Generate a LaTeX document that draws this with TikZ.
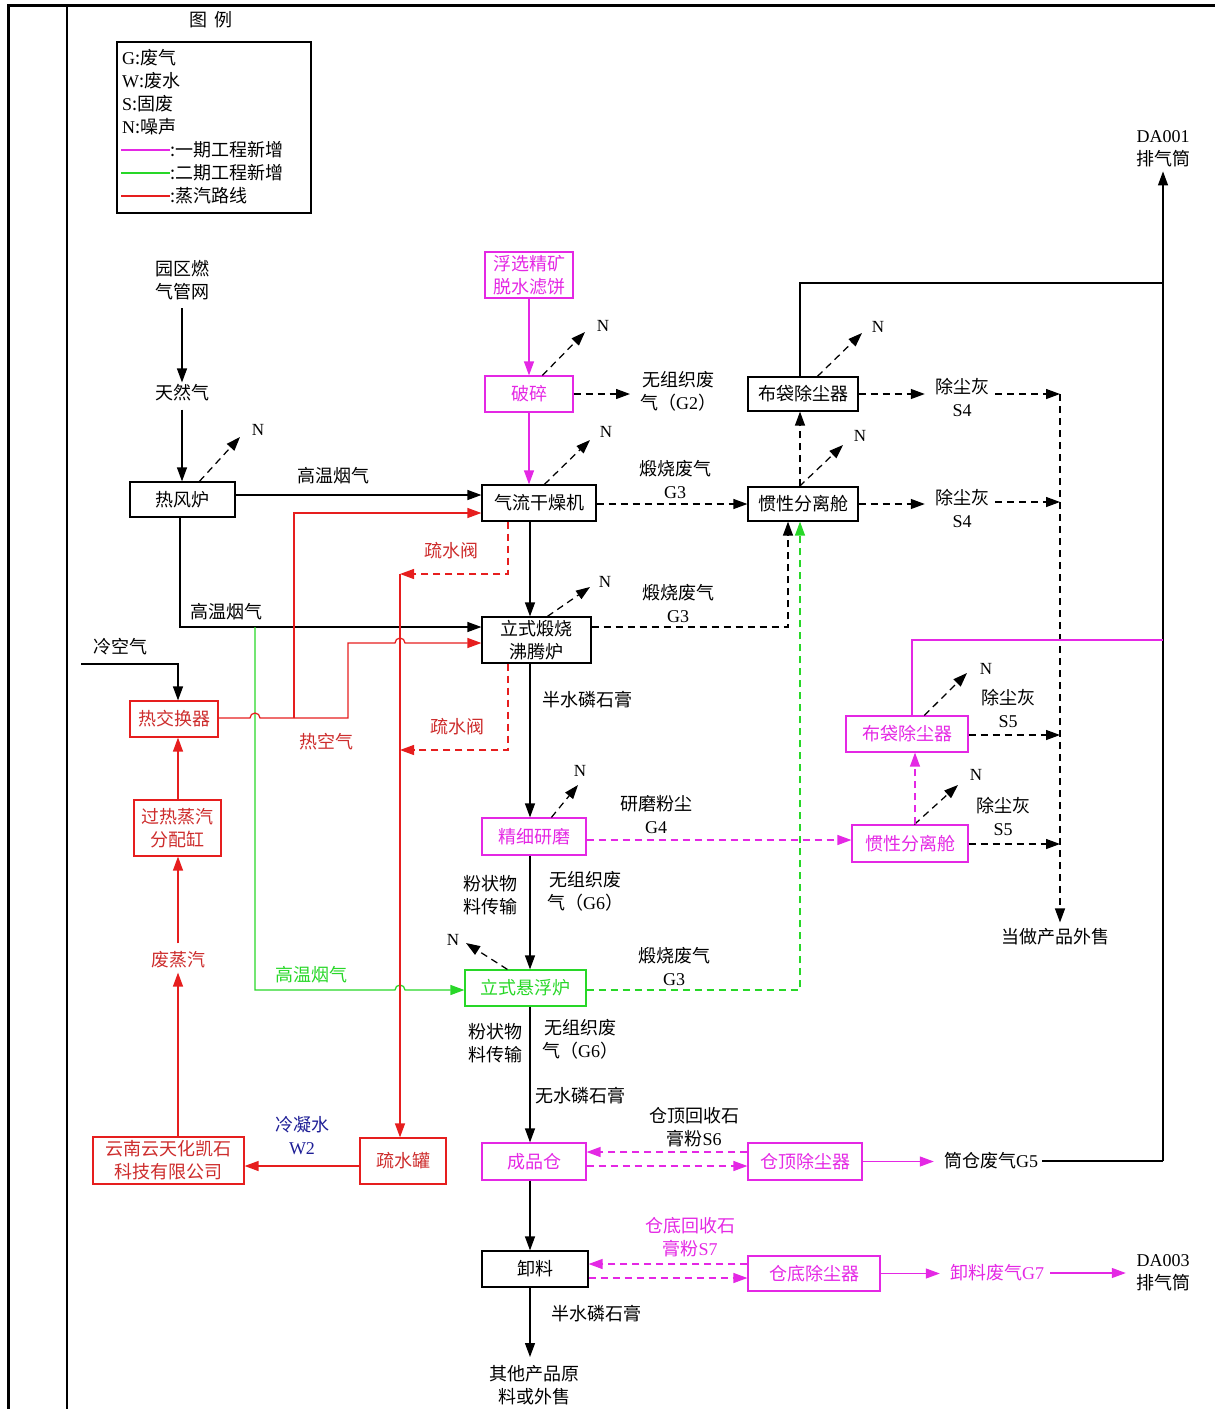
\documentclass[tikz,border=0pt]{standalone}
\usepackage{fontspec}
\setmainfont{Liberation Serif}
\newfontfamily\cjk{Noto Sans CJK SC}
\usetikzlibrary{arrows.meta,calc}
\definecolor{mag}{RGB}{228,40,228}
\definecolor{grn}{RGB}{40,215,40}
\definecolor{rd}{RGB}{230,30,30}
\definecolor{rdt}{RGB}{205,45,45}
\definecolor{blu}{RGB}{30,30,150}
\newcommand\lat[1]{{\rmfamily #1}}
\tikzset{
 base/.style={font=\cjk\fontsize{18}{23}\selectfont, align=center, inner sep=0pt},
 box/.style={base, draw, line width=1.2pt},
 kbox/.style={box, draw=black},
 mbox/.style={box, draw=mag, text=mag},
 gbox/.style={box, draw=grn, text=grn},
 rbox/.style={box, draw=rd, text=rdt},
 lbl/.style={base},
 nl/.style={font=\rmfamily\fontsize{17}{20}\selectfont, inner sep=0pt},
 ln/.style={line width=1.25pt},
 arr/.style={ln, -{Triangle[length=14pt,width=10pt]}},
 dsh/.style={dash pattern=on 7pt off 5pt},
}
\begin{document}
\begin{tikzpicture}[x=1pt,y=-1pt]
\useasboundingbox (0,0) rectangle (1215,1409);
% frame
\draw[line width=3pt] (8,1409) -- (8,5) -- (1215,5);
\draw[line width=1.6pt] (67,5) -- (67,1409);
% legend
\node[lbl] (lgt) at (211,20) {图\hspace{8pt}例};
\draw[line width=1.2pt] (117,42) rectangle (311,213);
\node[lbl, anchor=west] (lg1) at (122,58) {\lat{G}:废气};
\node[lbl, anchor=west] (lg2) at (122,81) {\lat{W}:废水};
\node[lbl, anchor=west] (lg3) at (122,104) {\lat{S}:固废};
\node[lbl, anchor=west] (lg4) at (122,127) {\lat{N}:噪声};
\node[lbl, anchor=west] (lg5) at (170,150) {:一期工程新增};
\node[lbl, anchor=west] (lg6) at (170,173) {:二期工程新增};
\node[lbl, anchor=west] (lg7) at (170,196) {:蒸汽路线};
\draw[ln, mag] (121,150) -- (lg5.west);
\draw[ln, grn] (121,173) -- (lg6.west);
\draw[ln, rd] (121,196) -- (lg7.west);

% ---------- nodes ----------
\node[lbl] (yq) at (182,280) {园区燃\\气管网};
\node[lbl] (trq) at (182,393) {天然气};
\node[kbox, minimum width=105pt, minimum height=35pt] (rfl) at (182.5,499.5) {热风炉};
\node[mbox, minimum width=88pt, minimum height=46pt] (fx) at (529,275) {浮选精矿\\脱水滤饼};
\node[mbox, minimum width=88pt, minimum height=36pt] (ps) at (529,394) {破碎};
\node[kbox, minimum width=114pt, minimum height=36pt] (qlgz) at (539,503) {气流干燥机};
\node[kbox, minimum width=110pt, minimum height=34pt] (gx1) at (803,504) {惯性分离舱};
\node[kbox, minimum width=110pt, minimum height=34pt] (bd1) at (803,394) {布袋除尘器};
\node[kbox, minimum width=109pt, minimum height=46pt] (lsfl) at (536.5,640) {立式煅烧\\沸腾炉};
\node[rbox, minimum width=88pt, minimum height=36pt] (rjhq) at (174,719) {热交换器};
\node[rbox, minimum width=87pt, minimum height=56pt] (grzq) at (177.5,828) {过热蒸汽\\分配缸};
\node[rbox, minimum width=86pt, minimum height=46pt] (ssg) at (403,1161) {疏水罐};
\node[rbox, minimum width=151pt, minimum height=47pt] (yn) at (168.5,1160.5) {云南云天化凯石\\科技有限公司};
\node[mbox, minimum width=104pt, minimum height=37pt] (jxym) at (534,836.5) {精细研磨};
\node[gbox, minimum width=121pt, minimum height=36pt] (xzfl) at (525.5,988) {立式悬浮炉};
\node[mbox, minimum width=116pt, minimum height=37pt] (gx2) at (910,843.5) {惯性分离舱};
\node[mbox, minimum width=122pt, minimum height=36pt] (bd2) at (907,734) {布袋除尘器};
\node[mbox, minimum width=104pt, minimum height=37pt] (cpc) at (534,1161.5) {成品仓};
\node[mbox, minimum width=114pt, minimum height=37pt] (cdc) at (805,1161.5) {仓顶除尘器};
\node[kbox, minimum width=106pt, minimum height=36pt] (xl) at (535,1269) {卸料};
\node[mbox, minimum width=132pt, minimum height=35pt] (cdi) at (814,1273.5) {仓底除尘器};

% text labels
\node[lbl] (l1) at (333,476) {高温烟气};
\node[lbl] (l2) at (226,612) {高温烟气};
\node[lbl, anchor=west] (g2) at (640,391) {无组织废\\气（\lat{G2}）};
\node[lbl] (l3) at (675,479) {煅烧废气\\\lat{G3}};
\node[lbl] (l4) at (678,603) {煅烧废气\\\lat{G3}};
\node[lbl] (s4a) at (962,397) {除尘灰\\\lat{S4}};
\node[lbl] (s4b) at (962,508) {除尘灰\\\lat{S4}};
\node[lbl] (sale) at (1055,937) {当做产品外售};
\node[lbl] (da1) at (1163,149) {\lat{DA001}\\排气筒};
\node[lbl] (cold) at (120,647) {冷空气};
\node[lbl, text=rdt] (hot) at (326,742) {热空气};
\node[lbl, text=rdt] (ss1) at (451,551) {疏水阀};
\node[lbl, text=rdt] (ss2) at (457,727) {疏水阀};
\node[lbl, text=rdt] (fzq) at (178,960) {废蒸汽};
\node[lbl, text=blu] (lns) at (302,1136) {冷凝水\\\lat{W2}};
\node[lbl, text=grn] (l5) at (311,975) {高温烟气};
\node[lbl] (l6) at (587,700) {半水磷石膏};
\node[lbl] (l7) at (656,815) {研磨粉尘\\\lat{G4}};
\node[lbl] (s5a) at (1008,708) {除尘灰\\\lat{S5}};
\node[lbl] (s5b) at (1003,816) {除尘灰\\\lat{S5}};
\node[lbl] (l8) at (490,895) {粉状物\\料传输};
\node[lbl, anchor=west] (l9) at (547,891) {无组织废\\气（\lat{G6}）};
\node[lbl] (l10) at (674,966) {煅烧废气\\\lat{G3}};
\node[lbl] (l11) at (495,1043) {粉状物\\料传输};
\node[lbl, anchor=west] (l12) at (542,1039) {无组织废\\气（\lat{G6}）};
\node[lbl] (l13) at (580,1096) {无水磷石膏};
\node[lbl] (l14) at (694,1127) {仓顶回收石\\膏粉\lat{S6}};
\node[lbl] (g5) at (991,1161) {筒仓废气\lat{G5}};
\node[lbl, text=mag] (l15) at (690,1237) {仓底回收石\\膏粉\lat{S7}};
\node[lbl, text=mag] (g7) at (997,1273) {卸料废气\lat{G7}};
\node[lbl] (da3) at (1163,1273) {\lat{DA003}\\排气筒};
\node[lbl] (l16) at (596,1314) {半水磷石膏};
\node[lbl] (other) at (534,1385) {其他产品原\\料或外售};

% N labels
\node[nl] (n1) at (258,430) {N};
\node[nl] (n2) at (603,326) {N};
\node[nl] (n3) at (606,432) {N};
\node[nl] (n4) at (860,436) {N};
\node[nl] (n5) at (878,327) {N};
\node[nl] (n6) at (605,582) {N};
\node[nl] (n7) at (580,771) {N};
\node[nl] (n8) at (453,940) {N};
\node[nl] (n9) at (976,775) {N};
\node[nl] (n10) at (986,669) {N};
\coordinate (t1) at (240,437);
\coordinate (t2) at (585,332);
\coordinate (t3) at (590,440);
\coordinate (t4) at (843,445);
\coordinate (t5) at (862,333);
\coordinate (t6) at (590,587);
\coordinate (t7) at (578,785);
\coordinate (t8) at (466,943);
\coordinate (t9) at (958,785);
\coordinate (t10) at (967,673);
\draw[arr, dsh] ($(rfl.north west)+(70,0)$) -- (t1);
\draw[arr, dsh] ($(ps.north west)+(58,0)$) -- (t2);
\draw[arr, dsh] ($(qlgz.north west)+(63,0)$) -- (t3);
\draw[arr, dsh] ($(gx1.north west)+(52,0)$) -- (t4);
\draw[arr, dsh] ($(bd1.north west)+(70,0)$) -- (t5);
\draw[arr, dsh] ($(lsfl.north west)+(66,0)$) -- (t6);
\draw[arr, dsh] ($(jxym.north west)+(70,0)$) -- (t7);
\draw[arr, dsh] ($(xzfl.north west)+(43,0)$) -- (t8);
\draw[arr, dsh] ($(gx2.north west)+(63,0)$) -- (t9);
\draw[arr, dsh] ($(bd2.north west)+(79,0)$) -- (t10);

% ---------- connectors ----------
% gas supply
\draw[arr, shorten <=8pt, shorten >=2pt] (yq.south) -- (trq.north);
\draw[arr, shorten <=8pt] (trq.south) -- (rfl.north -| trq.south);
\draw[arr] (rfl.east |- 0,495) -- (qlgz.west |- 0,495);
\draw[arr] (rfl.south -| 180,0) |- (lsfl.west |- 0,627);
% green hot gas
\coordinate (gs) at (255,627);
\draw[arr, grn] (gs) -- (255,990) -- (395,990) arc (180:360:5) -- (xzfl.west |- 0,990);
% cold air
\coordinate (ca) at (81,664);
\draw[arr] (ca) -- (178,664) -- (rjhq.north -| 178,0);
% hot air (red)
\coordinate (hs) at (294,718);
\draw[ln, rd] (rjhq.east |- hs) -- (250,718) arc (180:360:5) -- (hs);
\draw[arr, rd] (hs) |- (qlgz.west |- 0,513);
\draw[arr, rd] (hs) -- (348,718) -- (348,643) -- (395,643) arc (180:360:5) -- (lsfl.west |- 0,643);
% drain valves
\coordinate (rv1) at (400,574);
\coordinate (rv2) at (400,750);
\draw[arr, rd, dsh] (qlgz.south -| 508,0) |- (rv1);
\draw[arr, rd, dsh] (lsfl.south -| 508,0) |- (rv2);
\draw[arr, rd] (rv1) -- (ssg.north -| rv1);
\draw[arr, rd] (ssg.west |- 0,1166) -- (yn.east |- 0,1166);
\draw[arr, rd, shorten >=4pt] (yn.north -| 178,0) -- (fzq.south);
\draw[arr, rd, shorten <=8pt] (fzq.north) -- (grzq.south -| fzq.north);
\draw[arr, rd] (grzq.north -| 178,0) -- (rjhq.south -| 178,0);
% phase 1 feed
\draw[arr, mag] (fx.south) -- (ps.north);
\draw[arr, mag] (ps.south) -- (qlgz.north -| ps.south);
\draw[arr, dsh, shorten >=10pt] (ps.east) -- (g2.west |- ps.east);
% dryer
\draw[arr, dsh] (qlgz.east |- gx1.west) -- (gx1.west);
\draw[arr, dsh] (gx1.north -| 800,0) -- (bd1.south -| 800,0);
\coordinate (top1) at (1163,283);
\draw[ln] (bd1.north -| 800,0) |- (top1);
\coordinate (g5c) at (1163,1161);
\draw[ln] (g5.east) ++(4,0) -- (g5c);
\draw[arr, shorten >=4pt] (g5c) -- (da1.south);
\coordinate (c1) at (1060,394);
\coordinate (c2) at (1060,502);
\draw[arr, dsh, shorten >=10pt] (bd1.east) -- (s4a.west |- bd1.east);
\draw[arr, dsh, shorten <=6pt] (s4a.east |- c1) -- (c1);
\draw[arr, dsh, shorten >=10pt] (gx1.east) -- (s4b.west |- gx1.east);
\draw[arr, dsh, shorten <=6pt] (s4b.east |- c2) -- (c2);
\draw[arr, dsh, shorten >=6pt] (c1) -- (sale.north -| c1);
% calciner
\draw[arr] (qlgz.south -| 530,0) -- (lsfl.north -| 530,0);
\draw[arr, dsh] (lsfl.east |- 0,627) -| (gx1.south -| 788,0);
\draw[arr] (lsfl.south -| 530,0) -- (jxym.north -| 530,0);
% grinding
\draw[arr, mag, dsh] (jxym.east |- 0,840) -- (gx2.west |- 0,840);
\draw[arr, mag, dsh] (gx2.north -| 915,0) -- (bd2.south -| 915,0);
\coordinate (top2) at (1163,640);
\draw[ln, mag] (bd2.north -| 912,0) |- (top2);
\coordinate (c3) at (1060,735);
\coordinate (c4) at (1060,844);
\draw[arr, dsh] (bd2.east |- c3) -- (c3);
\draw[arr, dsh] (gx2.east |- c4) -- (c4);
\draw[arr] (jxym.south -| 530,0) -- (xzfl.north -| 530,0);
% suspension furnace
\draw[arr, grn, dsh] (xzfl.east |- 0,990) -| (gx1.south -| 800,0);
\draw[arr] (xzfl.south -| 530,0) -- (cpc.north -| 530,0);
% silo
\draw[arr, mag, dsh] (cdc.west |- 0,1152) -- (cpc.east |- 0,1152);
\draw[arr, mag, dsh] (cpc.east |- 0,1166) -- (cdc.west |- 0,1166);
\draw[arr, mag, shorten >=10pt] (cdc.east) -- (g5.west |- cdc.east);
\draw[arr] (cpc.south -| 530,0) -- (xl.north -| 530,0);
% unloading
\draw[arr, mag, dsh] (cdi.west |- 0,1264) -- (xl.east |- 0,1264);
\draw[arr, mag, dsh] (xl.east |- 0,1278) -- (cdi.west |- 0,1278);
\draw[arr, mag, shorten >=10pt] (cdi.east) -- (g7.west |- cdi.east);
\draw[arr, mag, shorten <=6pt, shorten >=10pt] (g7.east) -- (da3.west |- g7.east);
\draw[arr, shorten >=8pt] (xl.south -| 530,0) -- (other.north -| 530,0);
\end{tikzpicture}
\end{document}
